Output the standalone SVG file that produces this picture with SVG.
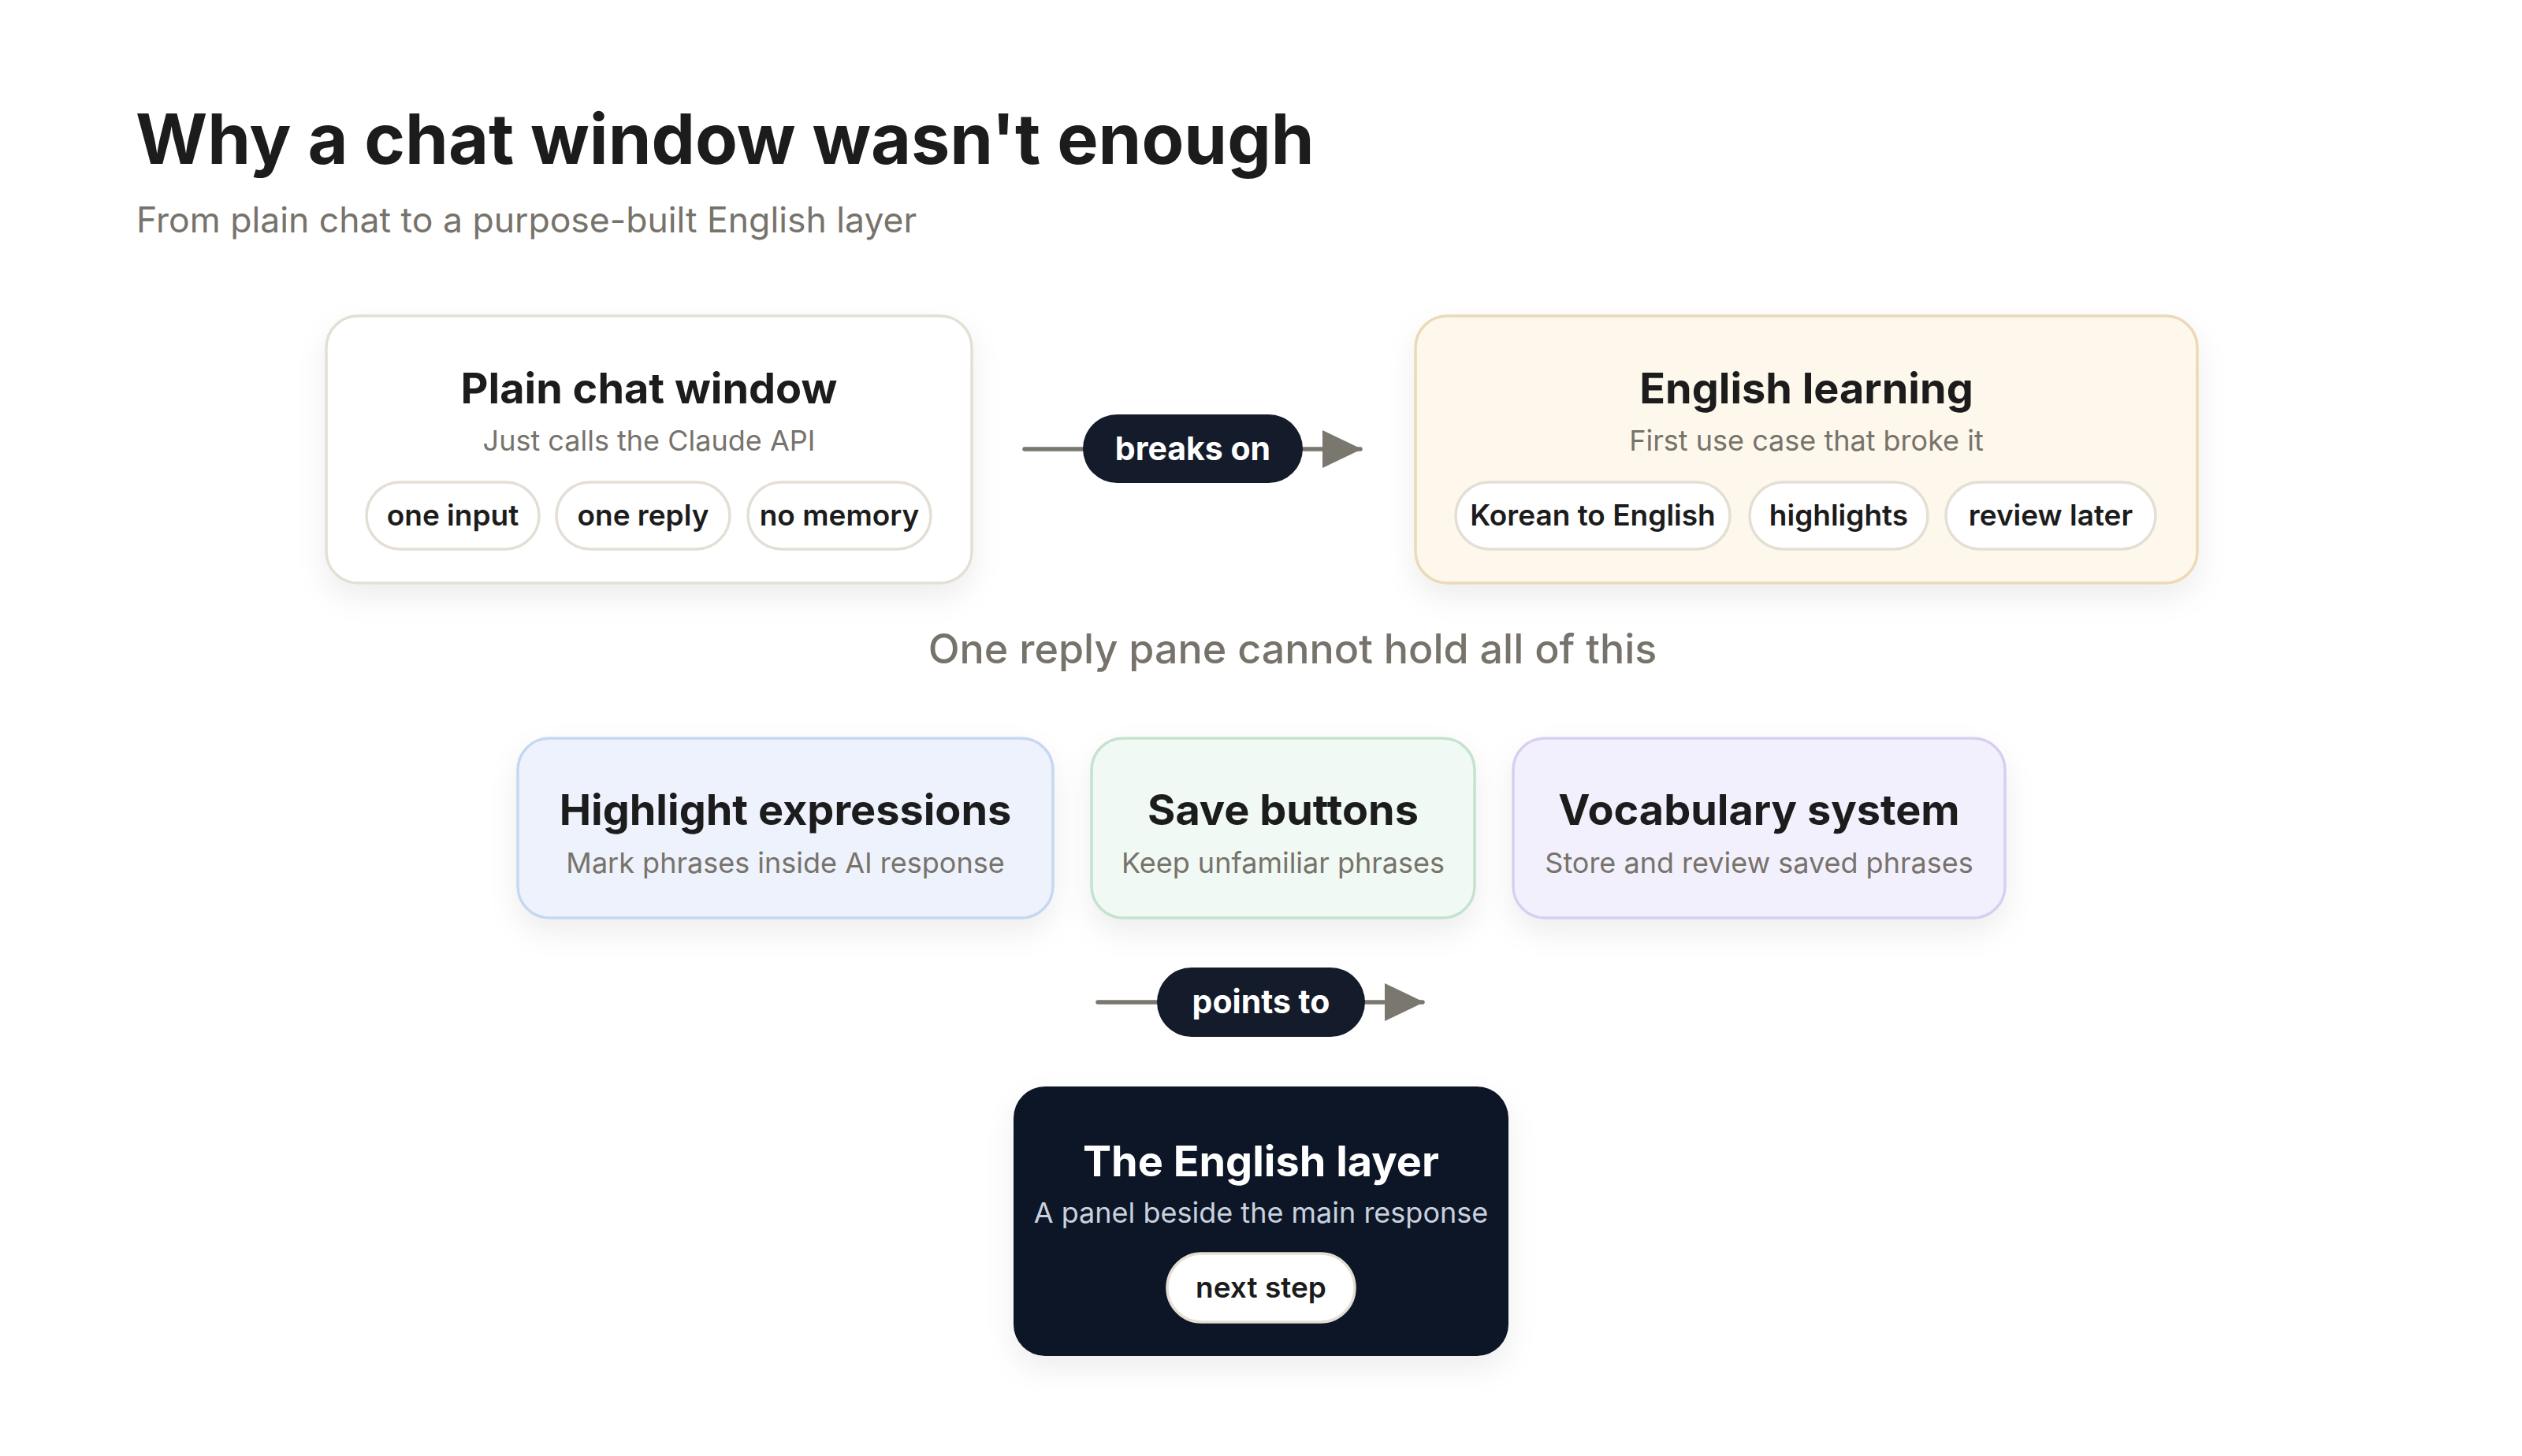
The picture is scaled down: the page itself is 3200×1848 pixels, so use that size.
<svg xmlns="http://www.w3.org/2000/svg" width="3200" height="1848" viewBox="0 0 3200 1848">
<defs>
<style>
text{font-family:Inter,"Noto Sans","Liberation Sans",sans-serif;text-anchor:middle}
.h1{font-size:88px;font-weight:700;fill:#1c1c1c;text-anchor:start}
.h2{font-size:44.5px;font-weight:400;fill:#77736b;text-anchor:start}
.nt{font-size:54px;font-weight:700;fill:#1c1c1c}
.ns{font-size:36px;font-weight:400;fill:#77736b}
.pill{fill:#ffffff;stroke:#e4dfd5;stroke-width:3.5}
.pt{font-size:37px;font-weight:600;fill:#1c1c1c}
.lab{fill:#141b2b}
.lt{font-size:41px;font-weight:700;fill:#ffffff}
.edge{stroke:#7a776f;stroke-width:5.5;stroke-linecap:round;fill:none}
.mid{font-size:52px;font-weight:500;fill:#77736b}
</style>
<filter id="sh" x="-20%" y="-20%" width="140%" height="160%">
<feDropShadow dx="0" dy="16" stdDeviation="18" flood-color="#000000" flood-opacity="0.07"/>
</filter>
<marker id="ah" viewBox="0 0 50 48" refX="48" refY="24" markerWidth="50" markerHeight="48" markerUnits="userSpaceOnUse" orient="auto">
<path d="M0,0 L50,24 L0,48 Z" fill="#7a776f"/>
</marker>
</defs>
<rect width="3200" height="1848" fill="#ffffff"/>
<g id="title">
<text class="h1" x="172" y="208">Why a chat window wasn't enough</text>
<text class="h2" x="173" y="295">From plain chat to a purpose-built English layer</text>
</g>
<g id="connectors">
<line class="edge" x1="1300" y1="570" x2="1726" y2="570" marker-end="url(#ah)"/>
<line class="edge" x1="1393" y1="1272" x2="1805" y2="1272" marker-end="url(#ah)"/>
</g>
<g id="plain-chat">
<rect x="414" y="401" width="819" height="339" rx="40" fill="#ffffff" stroke="#e4dfd5" stroke-width="3.5" filter="url(#sh)"/>
<text class="nt" x="823.5" y="512">Plain chat window</text>
<text class="ns" x="823.5" y="572">Just calls the Claude API</text>
<rect class="pill" x="465" y="612" width="219" height="85" rx="42.5"/>
<text class="pt" x="574.5" y="667">one input</text>
<rect class="pill" x="706" y="612" width="220" height="85" rx="42.5"/>
<text class="pt" x="816" y="667">one reply</text>
<rect class="pill" x="949" y="612" width="232" height="85" rx="42.5"/>
<text class="pt" x="1065" y="667">no memory</text>
</g>
<g id="breaks-on">
<rect class="lab" x="1374" y="526" width="279" height="87" rx="43.5"/>
<text class="lt" x="1513.5" y="584">breaks on</text>
</g>
<g id="english-learning">
<rect x="1796" y="401" width="992" height="339" rx="40" fill="#fdf7ec" stroke="#ecd9b6" stroke-width="3.5" filter="url(#sh)"/>
<text class="nt" x="2292" y="512">English learning</text>
<text class="ns" x="2292" y="572">First use case that broke it</text>
<rect class="pill" x="1847" y="612" width="348" height="85" rx="42.5"/>
<text class="pt" x="2021" y="667">Korean to English</text>
<rect class="pill" x="2220" y="612" width="226" height="85" rx="42.5"/>
<text class="pt" x="2333" y="667">highlights</text>
<rect class="pill" x="2469" y="612" width="266" height="85" rx="42.5"/>
<text class="pt" x="2602" y="667">review later</text>
</g>
<g id="mid-label">
<text class="mid" x="1640" y="842">One reply pane cannot hold all of this</text>
</g>
<g id="highlight-expressions">
<rect x="657" y="937" width="679" height="228" rx="40" fill="#eef2fc" stroke="#c6d7f1" stroke-width="3.5" filter="url(#sh)"/>
<text class="nt" x="996.5" y="1047">Highlight expressions</text>
<text class="ns" x="996.5" y="1108">Mark phrases inside AI response</text>
</g>
<g id="save-buttons">
<rect x="1385" y="937" width="486" height="228" rx="40" fill="#f1f9f4" stroke="#c4e2cd" stroke-width="3.5" filter="url(#sh)"/>
<text class="nt" x="1628" y="1047">Save buttons</text>
<text class="ns" x="1628" y="1108">Keep unfamiliar phrases</text>
</g>
<g id="vocabulary-system">
<rect x="1920" y="937" width="624" height="228" rx="40" fill="#f3f0fd" stroke="#d9cef1" stroke-width="3.5" filter="url(#sh)"/>
<text class="nt" x="2232" y="1047">Vocabulary system</text>
<text class="ns" x="2232" y="1108">Store and review saved phrases</text>
</g>
<g id="points-to">
<rect class="lab" x="1468" y="1228" width="264" height="88" rx="44"/>
<text class="lt" x="1600" y="1286">points to</text>
</g>
<g id="english-layer">
<rect x="1286" y="1379" width="628" height="342" rx="40" fill="#111827" filter="url(#sh)"/>
<text class="nt" x="1600" y="1493" style="fill:#ffffff">The English layer</text>
<text class="ns" x="1600" y="1552" style="fill:#c9d1de">A panel beside the main response</text>
<rect class="pill" x="1481" y="1591" width="238" height="87" rx="43.5"/>
<text class="pt" x="1600" y="1647">next step</text>
</g>
</svg>
